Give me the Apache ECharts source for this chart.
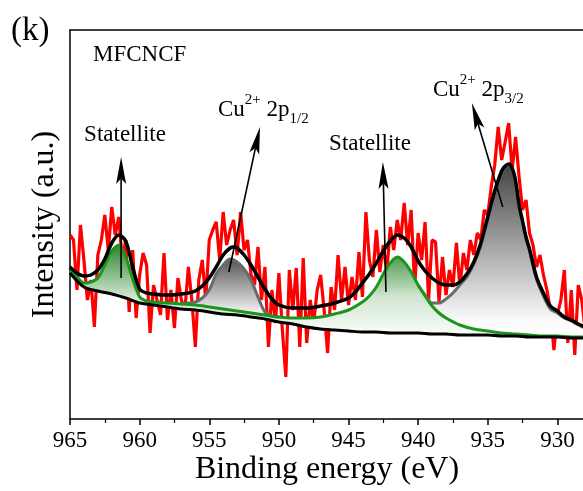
<!DOCTYPE html>
<html>
<head>
<meta charset="utf-8">
<script src="https://cdn.jsdelivr.net/npm/echarts@6/dist/echarts.min.js"></script>
<style>
  html, body { margin: 0; padding: 0; background: #fff; }
  #chart { width: 583px; height: 491px; }
</style>
</head>
<body>
<div id="chart"></div>
<script>
// raw XPS spectrum (red), binding energy in eV, intensity in arbitrary units
var rawEnergy = [965,964.75,964.5,964.25,964,963.75,963.5,963.25,963,962.75,962.5,962.25,962,961.75,961.5,961.25,961,960.75,960.5,960.25,960,
  959.75,959.5,959.25,959,958.75,958.5,958.25,958,957.75,957.5,957.25,957,956.75,956.5,956.25,956,955.75,955.5,955.25,955,
  954.75,954.5,954.25,954,953.75,953.5,953.25,953,952.75,952.5,952.25,952,951.75,951.5,951.25,951,950.75,950.5,950.25,950,
  949.75,949.5,949.25,949,948.75,948.5,948.25,948,947.75,947.5,947.25,947,946.75,946.5,946.25,946,945.75,945.5,945.25,945,
  944.75,944.5,944.25,944,943.75,943.5,943.25,943,942.75,942.5,942.25,942,941.75,941.5,941.25,941,940.75,940.5,940.25,940,
  939.75,939.5,939.25,939,938.75,938.5,938.25,938,937.75,937.5,937.25,937,936.75,936.5,936.25,936,935.75,935.5,935.25,935,
  934.75,934.5,934.25,934,933.75,933.5,933.25,933,932.75,932.5,932.25,932,931.75,931.5,931.25,931,930.75,930.5,930.25,930,
  929.75,929.5,929.25,929,928.75,928.5,928.25,928];
var rawCounts = [184,179,129,194,159,119,139,92,164,179,204,169,212,184,202,159,179,107,169,101,144,
  166,154,86,134,119,104,166,99,129,91,141,119,109,152,119,72,139,159,119,179,
  189,197,159,207,174,189,199,164,207,169,179,144,134,172,119,152,72,129,96,146,
  89,42,149,109,151,72,161,76,119,96,129,144,109,66,132,109,164,119,152,114,
  142,119,167,122,207,159,142,189,147,174,147,192,169,199,179,216,174,209,132,186,
  159,197,119,179,177,117,162,124,149,132,176,132,166,149,179,164,186,179,209,204,
  232,254,292,259,277,296,249,282,242,209,219,186,174,152,164,144,129,109,69,104,
  119,149,76,129,64,134,119,89];

// Shirley-type background (black, bottom)
var bgEnergy = [965,964,963,962,961,960,959,958,957,956,955,954,953,952,951,950,949,948,947,946,945,944,943,942,941,940,939,938,937,936,935,934,933,932,931,930,929,928];
var bgCounts = [146,132,128,125,121,116,114,112,110,109,107,105,104,102,100,97,95,92,90,89,88,87,87,86,86,86,85,85,84,84,84,83,83,82,82,82,81,81];

// background + shake-up satellites (green)
var satEnergy = [965,964.5,964,963.5,963,962.5,962,961.5,961,960.5,960,959.5,959,958,957,956,955,954,953,952,951,950,949,948,947,946,945,944,943.5,943,942.5,942,941.5,941,940.5,940,939.5,939,938.5,938,937,936,935,934,933,932,931,930,929,928];
var satCounts = [149,142,136,137,141,154,168,174,162,140,122,118,117,116,115,114,112,110,108,106,104,102,101,101,102,105,109,117,123,132,145,156,162,157,147,134,123,113,106,101,94,90,88,86,85,84,83,83,82,82];

// Cu2+ 2p1/2 component (grey)
var p12Energy = [957,956.5,956,955.5,955,954.5,954,953.5,953,952.5,952,951.5,951,950.5,950];
var p12Counts = [115,116,117,121,129,145,154,160,157,150,139,122,107,103,102];

// Cu2+ 2p3/2 component (grey)
var p32Energy = [940,939.5,939,938.5,938,937.5,937,936.5,936,935.5,935,934.5,934,933.75,933.5,933.25,933,932.75,932.5,932.25,932,931.5,931,930.5,930,929.5,929,928.5,928];
var p32Counts = [134,124,116,116,120,126,134,142,155,173,200,226,246,252,254,250,236,212,196,180,168,140,123,110,106,101,98,94,91];

// total fitted envelope (black)
var fitEnergy = [965,964.5,964,963.5,963,962.5,962,961.5,961,960.5,960,959.5,959,958,957,956.5,956,955.5,955,954.5,954,953.5,953.25,953,952.5,952,951.5,951,950.5,950,949,948,947,946,945,944.5,944,943.5,943,942.5,942,941.5,941,940.5,940,939.5,939,938.5,938,937.5,937,936.5,936,935.5,935,934.5,934,933.75,933.5,933.25,933,932.75,932.5,932.25,932,931.5,931,930.5,930,929.5,929,928.5,928];
var fitCounts = [152,146,143,144,149,160,176,184,178,152,130,126,125,124,125,126,128,133,141,152,164,171,172,171,164,154,142,130,120,114,111,111,113,116,121,127,136,145,156,168,178,184,181,172,158,148,141,136,134,134,137,145,157,176,202,228,248,253,255,251,238,214,198,182,170,142,126,113,108,102,99,95,92];

// annotation arrows: from (energy, intensity) to arrow tip
var arrowFromE = [961.33, 953.59, 942.31, 933.92];
var arrowFromI = [141, 147, 127, 212];
var arrowToE = [961.33, 951.36, 942.53, 936.14];
var arrowToI = [262, 292, 257, 316];

var SERIF = '"Liberation Serif", "Times New Roman", serif';

function zip(a, b) {
  var out = [];
  for (var i = 0; i < a.length; i++) out.push([a[i], b[i]]);
  return out;
}

// polygon between an upper curve and a lower curve
function bandRender(upE, upI, loE, loI, colors) {
  return function (params, api) {
    var lo = Math.min.apply(null, upE), hi = Math.max.apply(null, upE);
    var pts = [];
    for (var i = 0; i < upE.length; i++) pts.push(api.coord([upE[i], upI[i]]));
    for (var j = loE.length - 1; j >= 0; j--) {
      if (loE[j] >= lo - 1e-6 && loE[j] <= hi + 1e-6) pts.push(api.coord([loE[j], loI[j]]));
    }
    return {
      type: 'polygon',
      shape: { points: pts, smooth: 0.3 },
      style: { fill: new echarts.graphic.LinearGradient(0, 0, 0, 1, colors) }
    };
  };
}

function renderArrow(params, api) {
  var p1 = api.coord([api.value(0), api.value(1)]);
  var p2 = api.coord([api.value(2), api.value(3)]);
  var dx = p2[0] - p1[0], dy = p2[1] - p1[1];
  var len = Math.sqrt(dx * dx + dy * dy);
  var ux = dx / len, uy = dy / len;
  var hl = 27, hw = 5;
  var bx = p2[0] - ux * hl, by = p2[1] - uy * hl;
  var nx = p2[0] - ux * hl * 0.8, ny = p2[1] - uy * hl * 0.8;
  return {
    type: 'group',
    children: [
      { type: 'line', shape: { x1: p1[0], y1: p1[1], x2: nx, y2: ny }, style: { stroke: '#000', lineWidth: 1.6 } },
      { type: 'polygon', shape: { points: [[p2[0], p2[1]], [bx - uy * hw, by + ux * hw], [nx, ny], [bx + uy * hw, by - ux * hw]] }, style: { fill: '#000' } }
    ]
  };
}

var arrowData = [];
for (var k = 0; k < arrowFromE.length; k++) arrowData.push([arrowFromE[k], arrowFromI[k], arrowToE[k], arrowToI[k]]);

var chart = echarts.init(document.getElementById('chart'));

var rich = {
  n: { fontFamily: SERIF, fontSize: 23, color: '#000', lineHeight: 34, verticalAlign: 'middle' },
  sup: { fontFamily: SERIF, fontSize: 15, color: '#000', lineHeight: 34, verticalAlign: 'top' },
  sub: { fontFamily: SERIF, fontSize: 15, color: '#000', lineHeight: 34, verticalAlign: 'bottom' }
};

chart.setOption({
  backgroundColor: '#fff',
  animation: false,
  grid: { left: 70, top: 30, right: -44, bottom: 72, outerBoundsMode: 'none', containLabel: false },
  xAxis: [{
    type: 'value',
    inverse: true,
    min: 925,
    max: 965,
    interval: 5,
    axisLine: { lineStyle: { color: '#000', width: 1.5 } },
    axisTick: { show: true, length: 6, lineStyle: { color: '#000', width: 1.5 } },
    minorTick: { show: true, splitNumber: 2, length: 4, lineStyle: { color: '#000', width: 1.2 } },
    axisLabel: { fontFamily: SERIF, fontSize: 23, color: '#000', margin: 10 },
    splitLine: { show: false }
  }, {
    type: 'value',
    position: 'top',
    inverse: true,
    min: 925,
    max: 965,
    axisLine: { show: true, lineStyle: { color: '#000', width: 1.5 } },
    axisTick: { show: false },
    axisLabel: { show: false },
    splitLine: { show: false }
  }],
  yAxis: {
    type: 'value',
    min: 0,
    max: 389,
    name: 'Intensity (a.u.)',
    nameLocation: 'middle',
    nameGap: 9,
    nameTextStyle: { fontFamily: SERIF, fontSize: 32, color: '#000' },
    axisLine: { show: true, lineStyle: { color: '#000', width: 1.5 } },
    axisTick: { show: false },
    axisLabel: { show: false },
    splitLine: { show: false }
  },
  graphic: [
    { type: 'text', x: 11, y: 31, style: { text: '(k)', font: '33px ' + SERIF, fill: '#000', verticalAlign: 'middle', textVerticalAlign: 'middle' } },
    { type: 'text', x: 93, y: 55, style: { text: 'MFCNCF', font: '23px ' + SERIF, fill: '#000', verticalAlign: 'middle', textVerticalAlign: 'middle' } },
    { type: 'text', x: 125, y: 135, style: { text: 'Statellite', font: '23px ' + SERIF, fill: '#000', align: 'center', textAlign: 'center', verticalAlign: 'middle', textVerticalAlign: 'middle' } },
    { type: 'text', x: 370, y: 144, style: { text: 'Statellite', font: '23px ' + SERIF, fill: '#000', align: 'center', textAlign: 'center', verticalAlign: 'middle', textVerticalAlign: 'middle' } },
    { type: 'text', x: 218, y: 110, style: { text: '{n|Cu}{sup|2+}{n| 2p}{sub|1/2}', rich: rich, verticalAlign: 'middle', textVerticalAlign: 'middle' } },
    { type: 'text', x: 433, y: 90, style: { text: '{n|Cu}{sup|2+}{n| 2p}{sub|3/2}', rich: rich, verticalAlign: 'middle', textVerticalAlign: 'middle' } },
    { type: 'text', x: 327, y: 470, style: { text: 'Binding energy (eV)', font: '32px ' + SERIF, fill: '#000', align: 'center', textAlign: 'center', verticalAlign: 'middle', textVerticalAlign: 'middle' } }
  ],
  series: [{
    name: 'raw',
    type: 'line',
    z: 1,
    data: zip(rawEnergy, rawCounts),
    showSymbol: false,
    lineStyle: { color: '#ff0000', width: 3.2 }
  }, {
    name: 'p32 fill',
    type: 'custom',
    z: 2,
    clip: true,
    data: [[p32Energy[0], p32Counts[0]]],
    renderItem: bandRender(p32Energy, p32Counts, satEnergy, satCounts,
      [{ offset: 0, color: '#444444' }, { offset: 0.5, color: '#aaaaaa' }, { offset: 0.9, color: '#fbfbfb' }, { offset: 1, color: '#ffffff' }])
  }, {
    name: 'sat fill',
    type: 'custom',
    z: 2,
    clip: true,
    data: [[satEnergy[0], satCounts[0]]],
    renderItem: bandRender(satEnergy, satCounts, bgEnergy, bgCounts,
      [{ offset: 0, color: '#2b862b' }, { offset: 0.55, color: '#cfe5cf' }, { offset: 1, color: '#ffffff' }])
  }, {
    name: 'p12 fill',
    type: 'custom',
    z: 2,
    clip: true,
    data: [[p12Energy[0], p12Counts[0]]],
    renderItem: bandRender(p12Energy, p12Counts, satEnergy, satCounts,
      [{ offset: 0, color: '#555555' }, { offset: 1, color: '#ffffff' }])
  }, {
    name: 'p32',
    type: 'line',
    z: 3,
    data: zip(p32Energy, p32Counts),
    smooth: 0.3,
    showSymbol: false,
    lineStyle: { color: '#6a6a6a', width: 3 }
  }, {
    name: 'p12',
    type: 'line',
    z: 3,
    data: zip(p12Energy, p12Counts),
    smooth: 0.3,
    showSymbol: false,
    lineStyle: { color: '#6a6a6a', width: 3 }
  }, {
    name: 'satellite',
    type: 'line',
    z: 3,
    data: zip(satEnergy, satCounts),
    smooth: 0.3,
    showSymbol: false,
    lineStyle: { color: '#1c951c', width: 3 }
  }, {
    name: 'background',
    type: 'line',
    z: 4,
    data: zip(bgEnergy, bgCounts),
    smooth: 0.3,
    showSymbol: false,
    lineStyle: { color: '#000', width: 3 }
  }, {
    name: 'envelope',
    type: 'line',
    z: 5,
    data: zip(fitEnergy, fitCounts),
    smooth: 0.3,
    showSymbol: false,
    lineStyle: { color: '#000', width: 3.5 }
  }, {
    name: 'arrows',
    type: 'custom',
    z: 6,
    encode: { x: [0, 2], y: [1, 3] },
    data: arrowData,
    renderItem: renderArrow
  }]
});
</script>
</body>
</html>
